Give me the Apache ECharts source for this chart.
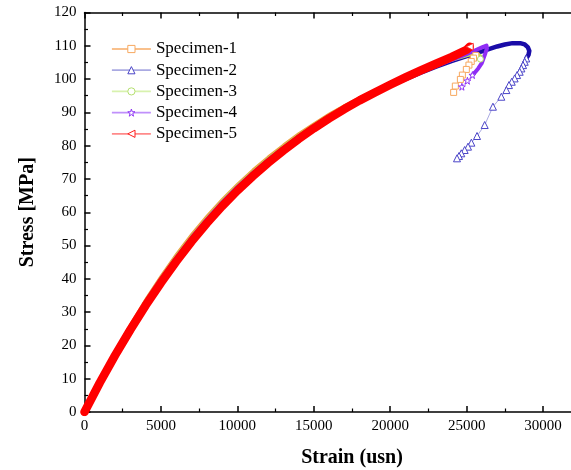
<!DOCTYPE html>
<html><head><meta charset="utf-8">
<script src="https://cdn.jsdelivr.net/npm/echarts@6/dist/echarts.min.js"></script>
<style>html,body{margin:0;padding:0;background:#fff}#c{width:571px;height:470px}</style>
</head><body><div id="c"></div>
<script>
const names = ['Specimen-1','Specimen-2','Specimen-3','Specimen-4','Specimen-5'];
const xTicks = [0,5000,10000,15000,20000,25000,30000];
const yTicks = [0,10,20,30,40,50,60,70,80,90,100,110,120];

// ascending (dense) parts: [strain, stress]
const s1Curve = [[0,0],[1000,9.7],[2000,18.4],[3000,26.4],[4000,34],[5000,41],[6000,47.5],[7000,53.5],[8000,59],[9000,64],[10000,68.6],[11000,72.8],[12000,76.7],[13000,80.3],[14000,83.7],[15000,86.7],[16000,89.6],[17000,92.2],[18000,94.6],[19000,96.9],[20000,99],[21000,100.9],[22000,102.6],[23000,104.1],[24000,105.5],[25000,106.6],[25600,107.1]];
const s1Tail = [[25600,107.1],[25450,106.3],[25300,105.3],[25150,104.2],[24980,102.9],[24720,101.2],[24590,99.9],[24260,97.9],[24150,96.0]];

const s2Curve = [[0,0],[1000,9],[2000,17.4],[3000,25.3],[4000,32.7],[5000,39.6],[6000,46],[7000,52],[8000,57.5],[9000,62.6],[10000,67.2],[11000,71.4],[12000,75.4],[13000,79],[14000,82.4],[15000,85.5],[16000,88.4],[17000,91.1],[18000,93.6],[19000,95.9],[20000,98],[21000,100],[22000,101.9],[23000,103.7],[24000,105.4],[25000,106.9],[26000,108.3],[26500,109.1],[27000,109.8],[27500,110.4],[28000,110.8],[28500,110.8],[28800,110.4],[29000,109.6],[29100,108.5],[29050,107.3],[28900,106.2]];
const s2Tail = [[28900,106.2],[28800,105.2],[28690,104.2],[28580,103.2],[28470,102.2],[28300,101.2],[28140,100.2],[27950,99.2],[27770,98.2],[27600,96.7],[27270,94.7],[26720,91.7],[26180,86.2],[25680,82.9],[25310,80.9],[25090,79.7],[24870,78.7],[24650,77.7],[24500,76.9],[24370,76.2]];

const s3Curve = [[0,0],[1000,9.4],[2000,18],[3000,25.9],[4000,33.4],[5000,40.3],[6000,46.8],[7000,52.8],[8000,58.3],[9000,63.4],[10000,68],[11000,72.2],[12000,76.2],[13000,79.8],[14000,83.2],[15000,86.3],[16000,89.2],[17000,91.9],[18000,94.3],[19000,96.6],[20000,98.7],[21000,100.7],[22000,102.5],[23000,104.1],[24000,105.6],[25000,107],[25500,107.5],[25800,107.4],[25950,106.8],[25900,106]];
const s3Tail = [[25900,106]];

const s4Curve = [[0,0],[1000,9.1],[2000,17.6],[3000,25.5],[4000,33],[5000,39.9],[6000,46.3],[7000,52.3],[8000,57.8],[9000,62.9],[10000,67.5],[11000,71.7],[12000,75.7],[13000,79.3],[14000,82.7],[15000,85.8],[16000,88.7],[17000,91.4],[18000,93.9],[19000,96.2],[20000,98.3],[21000,100.3],[22000,102.2],[23000,104],[24000,105.8],[25000,107.5],[25500,108.5],[26000,109.5],[26300,110.1],[26330,109.2],[26220,107.7],[26100,106.2],[25980,104.7],[25760,103.2],[25540,102],[25380,101.2]];
const s4Tail = [[25380,101.2],[25050,99.5],[24690,97.7]];

const s5Curve = [[0,0],[1000,8.8],[2000,17],[3000,24.7],[4000,32],[5000,38.8],[6000,45.2],[7000,51.2],[8000,56.7],[9000,61.8],[10000,66.5],[11000,70.8],[12000,74.8],[13000,78.5],[14000,82],[15000,85.2],[16000,88.2],[17000,91],[18000,93.6],[19000,96],[20000,98.3],[21000,100.5],[22000,102.6],[23000,104.6],[24000,106.6],[25000,108.8],[25200,109.7]];
const s5Tail = [[25200,109.7]];

const starPath = 'path://M50,0 L61,35 L98,35 L68,57 L79,91 L50,70 L21,91 L32,57 L2,35 L39,35 Z';
const SERIF = '"Liberation Serif", "Times New Roman", serif';

const specs = [
  {curve:s1Curve, tail:s1Tail, band:'#f39a3c', bandW:2, mark:'#f7a860', line:'#f9c08c', symbol:'rect', size:6, rot:0},
  {curve:s2Curve, tail:s2Tail, band:'#1a0ca8', bandW:4.5, mark:'#4b45c8', line:'#aaaae2', symbol:'triangle', size:7, rot:0},
  {curve:s3Curve, tail:s3Tail, band:'#b9e35a', bandW:3, mark:'#b5e070', line:'#d8f2ae', symbol:'circle', size:6, rot:0},
  {curve:s4Curve, tail:s4Tail, band:'#8f2cf5', bandW:4, mark:'#9035f5', line:'#c090fb', symbol:starPath, size:7, rot:0},
  {curve:s5Curve, tail:s5Tail, band:'#ff0000', bandW:8.5, mark:'#ff2020', line:'#ff8a8a', symbol:'triangle', size:7, rot:90}
];

const bandOrder = [1,3,0,2,4];
const series = [];
bandOrder.forEach(i => {
  const s = specs[i];
  series.push({
    name: 'band'+i, type:'line', data: s.curve, showSymbol:false, symbol:'none',
    lineStyle:{color:s.band, width:s.bandW, cap:'round', join:'round'},
    z: 2+i, silent:true, animation:false
  });
});
specs.forEach((s,i) => {
  series.push({
    name: names[i], type:'line', data: s.tail,
    symbol: s.symbol, symbolSize: s.size, symbolRotate: s.rot, showSymbol:true,
    showAllSymbol:true,
    itemStyle:{color:'#ffffff', borderColor:s.mark, borderWidth:1},
    lineStyle:{color:s.line, width:1},
    z: 10+i, animation:false
  });
});

const legendData = specs.map((s,i) => ({
  name: names[i],
  itemStyle:{color:'#ffffff', borderColor:s.mark, borderWidth:1},
  lineStyle:{color:s.line, width:1.8}
}));

const axisFont = {fontFamily:SERIF, fontSize:15, color:'#000'};
const nameFont = {fontFamily:SERIF, fontSize:20, fontWeight:'bold', color:'#000'};
const lineSty = {lineStyle:{color:'#000', width:1.5}};
const tickSty = {inside:true, length:6, lineStyle:{color:'#000', width:1.5}};
const minorSty = {show:true, splitNumber:2, length:3.5, lineStyle:{color:'#000', width:1.2}};

const option = {
  backgroundColor:'#fff',
  animation:false,
  grid:{left:84.5, top:12.5, width:535, height:399.5, containLabel:false, outerBoundsMode:'none'},
  legend:{
    orient:'vertical', left:111, top:40.5, padding:0, itemWidth:39, itemHeight:9, itemGap:4.2,
    data: legendData, textStyle:{fontFamily:SERIF, fontSize:17, color:'#000'}
  },
  xAxis:[{
    type:'value', min:0, max:35000, interval:5000, position:'bottom',
    name:'Strain (usn)', nameLocation:'middle', nameGap:36, nameTextStyle:nameFont,
    axisLine:Object.assign({onZero:false}, lineSty),
    axisTick:tickSty, minorTick:minorSty,
    axisLabel:Object.assign({margin:7, formatter:v => xTicks.indexOf(v) >= 0 ? String(v) : ''}, axisFont),
    splitLine:{show:false}
  },{
    type:'value', min:0, max:35000, interval:5000, position:'top',
    axisLine:Object.assign({onZero:false}, lineSty),
    axisTick:tickSty, minorTick:minorSty,
    axisLabel:{show:false}, splitLine:{show:false}
  }],
  yAxis:[{
    type:'value', min:0, max:120, interval:10, position:'left',
    name:'Stress [MPa]', nameLocation:'middle', nameGap:47, nameTextStyle:nameFont,
    axisLine:Object.assign({onZero:false}, lineSty),
    axisTick:tickSty, minorTick:minorSty,
    axisLabel:Object.assign({margin:8, formatter:v => yTicks.indexOf(v) >= 0 ? String(v) : ''}, axisFont),
    splitLine:{show:false}
  }],
  series: series
};
const chart = echarts.init(document.getElementById('c'), null, {renderer:'canvas'});
chart.setOption(option);
</script></body></html>
